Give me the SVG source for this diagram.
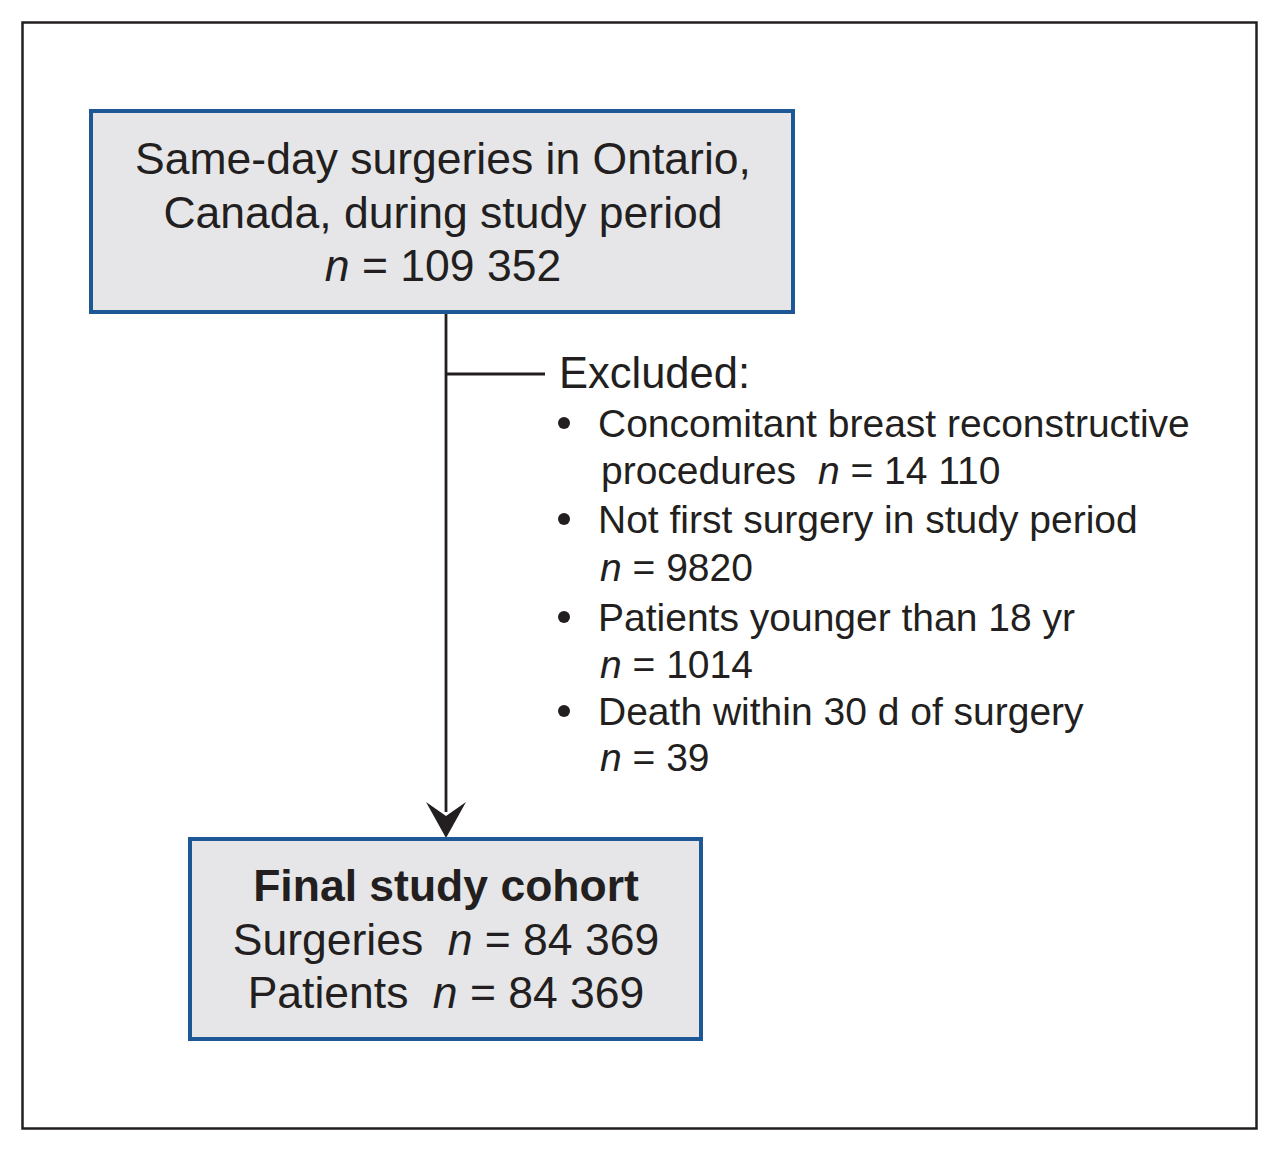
<svg xmlns="http://www.w3.org/2000/svg" width="1280" height="1152" viewBox="0 0 1280 1152">
<style>
text{font-family:"Liberation Sans",Arial,Helvetica,sans-serif;fill:#231f20}
.box{fill:#e6e6e8;stroke:#1d5796;stroke-width:4}
.big{font-size:44.5px}
.c{text-anchor:middle}
.ex{font-size:39px}
.it{font-style:italic}
.b{font-weight:bold}
.line{stroke:#231f20;stroke-width:2.8;fill:none}
</style>
<rect width="1280" height="1152" fill="#ffffff"/>
<rect id="frame" x="22.5" y="22.5" width="1234" height="1106" fill="none" stroke="#231f20" stroke-width="2.5"/>
<g id="connectors">
<line class="line" x1="446" y1="313" x2="446" y2="812"/>
<path d="M446,838 L426,802 L446,816 L466,802 Z" fill="#231f20"/>
<line class="line" x1="446" y1="374" x2="545" y2="374"/>
</g>
<g id="source">
<rect class="box" x="91" y="111" width="702" height="201"/>
<text class="big c" x="443" y="174">Same-day surgeries in Ontario,</text>
<text class="big c" x="443" y="228">Canada, during study period</text>
<text class="big c" x="443" y="281"><tspan class="it">n</tspan> = 109 352</text>
</g>
<g id="excluded">
<text x="559" y="388" style="font-size:43.5px">Excluded:</text>
<circle cx="564" cy="423" r="6" fill="#231f20"/>
<text class="ex" x="598" y="437">Concomitant breast reconstructive</text>
<text class="ex" x="601" y="484">procedures <tspan class="it" dx="11">n</tspan> = 14 110</text>
<circle cx="564" cy="519" r="6" fill="#231f20"/>
<text class="ex" x="598" y="533">Not first surgery in study period</text>
<text class="ex" x="600" y="581"><tspan class="it">n</tspan> = 9820</text>
<circle cx="564" cy="617" r="6" fill="#231f20"/>
<text class="ex" x="598" y="631">Patients younger than 18 yr</text>
<text class="ex" x="600" y="678"><tspan class="it">n</tspan> = 1014</text>
<circle cx="564" cy="711" r="6" fill="#231f20"/>
<text class="ex" x="598" y="725">Death within 30 d of surgery</text>
<text class="ex" x="600" y="771"><tspan class="it">n</tspan> = 39</text>
</g>
<g id="cohort">
<rect class="box" x="190" y="839" width="511" height="200"/>
<text class="big c b" x="446" y="901">Final study cohort</text>
<text class="big c" x="446" y="955">Surgeries <tspan class="it" dx="12">n</tspan> = 84 369</text>
<text class="big c" x="446" y="1008">Patients <tspan class="it" dx="12">n</tspan> = 84 369</text>
</g>
</svg>
